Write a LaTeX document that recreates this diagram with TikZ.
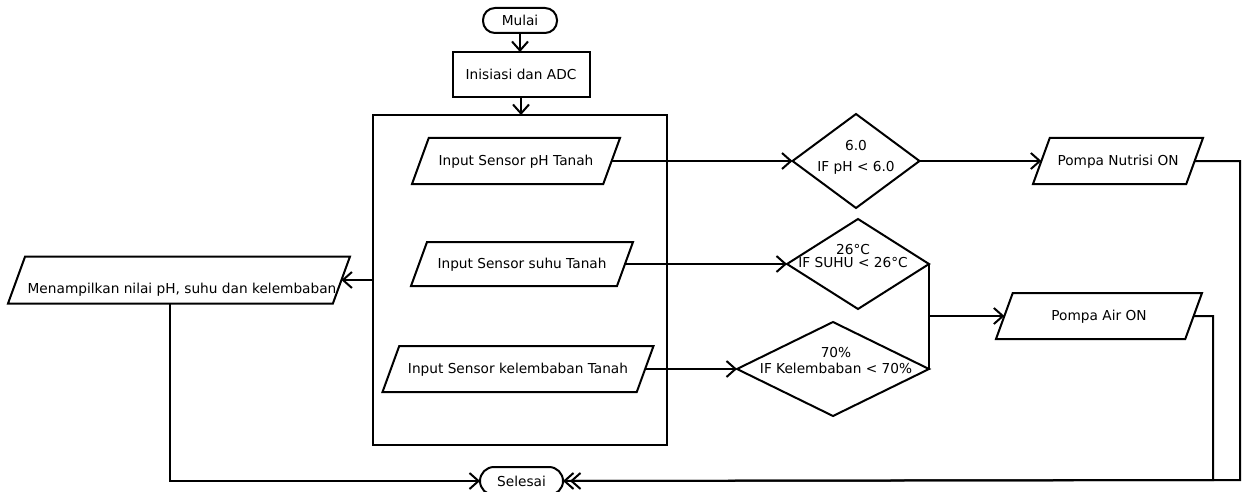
\documentclass[tikz,border=0pt]{standalone}
\usepackage{fontspec}
\setmainfont{DejaVu Sans}
\usepackage{tikz}
\usetikzlibrary{shapes.geometric,arrows.meta}
\tikzset{
	every node/.style={font=\fontsize{6.85}{8.5}\selectfont,inner sep=0pt,outer sep=0pt},
	terminal/.style={draw,rectangle,rounded corners=6pt,minimum width=37pt,minimum height=12.5pt},
	proses/.style={draw,rectangle,minimum width=#1,minimum height=22.5pt},
	io/.style={draw,trapezium,trapezium left angle=70,trapezium right angle=110,trapezium stretches body,
		text height=6pt,text depth=1.5pt,inner ysep=7.75pt,inner xsep=0pt,minimum width=#1},
	kondisi/.style 2 args={draw,diamond,minimum width=#1,minimum height=#2},
	alur/.style={-{Straight Barb[length=4.5pt,width=8pt]}},
	garis/.style={}
	}

\begin{document}
\begin{tikzpicture}[x=0.5pt,y=-0.5pt,line width=1pt]
	\useasboundingbox (0,0) rectangle (1242,492);
	% awal dan inisiasi
	\node[terminal] (mulai) at (520,20.5) {Mulai};
	\node[proses=68.5pt] (inisiasi) at (521,74.5) {Inisiasi dan ADC};
	\node[draw,minimum width=147pt,minimum height=165pt] (blok) at (520,280) {};

	% pembacaan sensor
	\node[io=104pt] (ph) at (516,161) {Input Sensor pH Tanah};
	\node[io=111pt,inner ysep=7.25pt] (suhu) at (522,264) {Input Sensor suhu Tanah};
	\node[io=135.5pt] (lembab) at (518,369) {Input Sensor kelembaban Tanah};

	% kondisi
	\node[kondisi={63.5pt}{47pt}] (cph) at (856,161) {};
	\node[kondisi={71pt}{45pt}] (csuhu) at (858,264) {};
	\node[kondisi={96pt}{47pt}] (clembab) at (833,369) {};
	\node[align=center] (tph) at (856,157) {6.0\\[2pt]IF pH < 6.0};
	\node[align=center] (tsuhu) at (853,256.5) {26°C\\[-2pt]IF SUHU < 26°C};
	\node[align=center] (tlembab) at (836,361) {70\%\\[-0.5pt]IF Kelembaban < 70\%};

	% aktuator dan tampilan
	\node[io=85pt] (nutrisi) at (1118,161) {Pompa Nutrisi ON};
	\node[io=103pt] (air) at (1099,316) {Pompa Air ON};
	\node[io=171pt,inner ysep=8pt] (tampil) at (179,280) {};
	\node (ttampil) at (182,290) {Menampilkan nilai pH, suhu dan kelembaban};
	\node[terminal,minimum width=41.5pt,minimum height=14pt,rounded corners=7pt] (selesai) at (521.5,481) {Selesai};

	\coordinate (gabung) at (929,316);
	\coordinate (kn1) at (1240,480);
	\coordinate (kn2) at (1213,480);

	\draw[alur] (mulai) -- (mulai |- inisiasi.north);
	\draw[alur] (inisiasi) -- (inisiasi |- blok.north);
	\draw[alur] (ph.right side) -- (cph.west);
	\draw[alur] (suhu.right side) -- (csuhu.west);
	\draw[alur] (lembab.right side) -- (clembab.west);
	\draw[alur] (cph.east) -- (nutrisi.left side);
	\draw[garis] (csuhu.east) -- (clembab.east);
	\draw[alur] (gabung) -- (air.left side);
	\draw[alur] (blok.west) -- (tampil.right side);
	\draw[alur] (tampil.bottom side) |- (selesai.west);
	\draw[alur] (nutrisi.right side) -| (kn1) -- (selesai.east);
	\draw[alur,shorten >=3.5pt] (air.right side) -| (kn2) -- (selesai.east);
\end{tikzpicture}
\end{document}
